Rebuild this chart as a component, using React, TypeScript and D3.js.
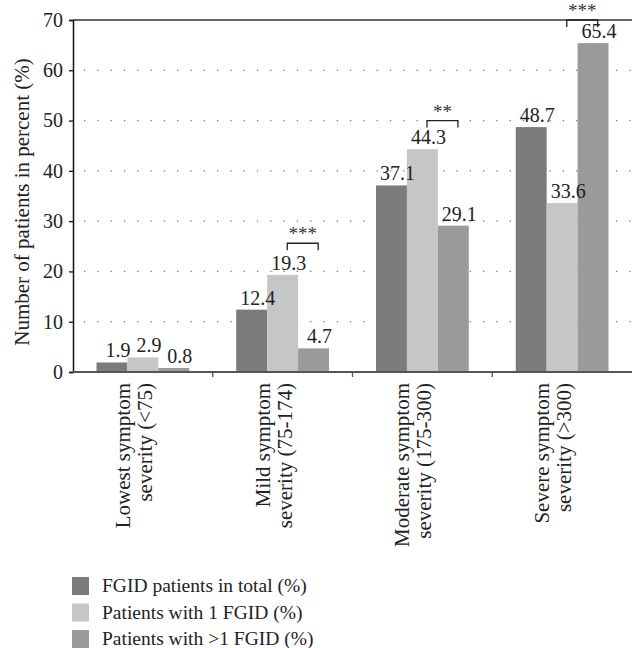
import React, { useEffect, useRef } from 'react';
import * as d3 from 'd3';

const categories = [
  ['Lowest symptom', 'severity (<75)'],
  ['Mild symptom', 'severity (75-174)'],
  ['Moderate symptom', 'severity (175-300)'],
  ['Severe symptom', 'severity (>300)'],
];
const seriesNames = ['FGID patients in total (%)', 'Patients with 1 FGID (%)', 'Patients with >1 FGID (%)'];
const totalValues = [1.9, 12.4, 37.1, 48.7];
const oneFgidValues = [2.9, 19.3, 44.3, 33.6];
const multiFgidValues = [0.8, 4.7, 29.1, 65.4];
const yTicks = [0, 10, 20, 30, 40, 50, 60, 70];
// significance marks: category index, stars, bracket height (in %)
const sigCategory = [1, 2, 3];
const sigStars = ['***', '**', '***'];
const sigLevel = [25.6, 50, 70];

const colors = ['#7b7b7b', '#c6c6c6', '#9a9a9a'];

export default function App() {
  const ref = useRef<SVGSVGElement>(null);

  useEffect(() => {
    const width = 632;
    const height = 648;
    const margin = { left: 73, right: 0, top: 20, bottom: 276 };
    const font = '"Liberation Serif", "DejaVu Serif", serif';
    const series = [totalValues, oneFgidValues, multiFgidValues];

    const svg = d3.select(ref.current);
    svg.selectAll('*').remove();
    svg.attr('width', width).attr('height', height);

    const y = d3.scaleLinear().domain([0, 70]).range([height - margin.bottom, margin.top]);
    const x0 = d3.scaleBand<number>()
      .domain(d3.range(categories.length))
      .range([margin.left, width - margin.right])
      .paddingInner(0)
      .paddingOuter(0);
    const x1 = d3.scaleBand<number>()
      .domain(d3.range(series.length))
      .range([0, x0.bandwidth()])
      .paddingOuter(0.76)
      .paddingInner(0);

    // gridlines
    svg.append('g')
      .selectAll('line')
      .data(yTicks.filter(t => t > 0 && t < 70))
      .enter()
      .append('line')
      .attr('x1', margin.left + 11)
      .attr('x2', width)
      .attr('y1', d => y(d))
      .attr('y2', d => y(d))
      .attr('stroke', '#777')
      .attr('stroke-width', 1.3)
      .attr('stroke-dasharray', '1.3,12');

    // bars
    series.forEach((vals, s) => {
      svg.append('g')
        .selectAll('rect')
        .data(vals)
        .enter()
        .append('rect')
        .attr('x', (d, i) => x0(i)! + x1(s)!)
        .attr('y', d => y(d))
        .attr('width', x1.bandwidth())
        .attr('height', d => y(0) - y(d))
        .attr('fill', colors[s]);
    });

    // value labels (on top of all bars)
    series.forEach((vals, s) => {
      svg.append('g')
        .selectAll('text')
        .data(vals)
        .enter()
        .append('text')
        .attr('x', (d, i) => x0(i)! + x1(s)! + x1.bandwidth() / 2 + 6)
        .attr('y', d => y(d) - 5)
        .attr('text-anchor', 'middle')
        .style('font-family', font)
        .style('font-size', '20px')
        .attr('fill', '#222')
        .text(d => d.toFixed(1));
    });

    // top frame line
    svg.append('line')
      .attr('x1', margin.left).attr('x2', width)
      .attr('y1', y(70)).attr('y2', y(70))
      .attr('stroke', '#666').attr('stroke-width', 2);

    // y axis
    const yAxis = svg.append('g')
      .attr('transform', `translate(${margin.left},0)`)
      .call(d3.axisLeft(y).tickValues(yTicks).tickSize(4).tickPadding(6).tickFormat(d3.format('d')));
    yAxis.select('.domain').attr('stroke', '#111').attr('stroke-width', 1.5);
    yAxis.selectAll('.tick line').attr('stroke', '#111').attr('stroke-width', 1.3);
    yAxis.selectAll('.tick text')
      .style('font-family', font)
      .style('font-size', '20px')
      .attr('fill', '#222');

    // x axis
    svg.append('line')
      .attr('x1', margin.left).attr('x2', width)
      .attr('y1', y(0)).attr('y2', y(0))
      .attr('stroke', '#555').attr('stroke-width', 2);
    svg.append('g')
      .selectAll('line')
      .data(d3.range(1, categories.length))
      .enter()
      .append('line')
      .attr('x1', d => x0(d)!).attr('x2', d => x0(d)!)
      .attr('y1', y(0)).attr('y2', y(0) + 5)
      .attr('stroke', '#555').attr('stroke-width', 1.3);

    // category labels
    categories.forEach((lines, i) => {
      const cx = x0(i)! + x0.bandwidth() / 2;
      lines.forEach((ln, j) => {
        const bx = cx - 13 + j * 22;
        svg.append('text')
          .attr('transform', `translate(${bx},${y(0) + 11}) rotate(-90)`)
          .attr('text-anchor', 'end')
          .style('font-family', font)
          .style('font-size', '21px')
          .attr('fill', '#222')
          .text(ln);
      });
    });

    // y axis title
    svg.append('text')
      .attr('transform', `translate(29,${(y(0) + y(70)) / 2 + 6}) rotate(-90)`)
      .attr('text-anchor', 'middle')
      .style('font-family', font)
      .style('font-size', '21px')
      .attr('fill', '#222')
      .text('Number of patients in percent (%)');

    // significance brackets between "1 FGID" and ">1 FGID" bars
    sigCategory.forEach((c, k) => {
      const xa = x0(c)! + x1(1)! + x1.bandwidth() * 0.65;
      const xb = x0(c)! + x1(2)! + x1.bandwidth() * 0.65;
      const yy = y(sigLevel[k]);
      svg.append('path')
        .attr('d', `M${xa},${yy + 7}V${yy}H${xb}V${yy + 7}`)
        .attr('fill', 'none')
        .attr('stroke', '#222')
        .attr('stroke-width', 1.3);
      svg.append('text')
        .attr('x', (xa + xb) / 2)
        .attr('y', yy - 3)
        .attr('text-anchor', 'middle')
        .style('font-family', font)
        .style('font-size', '19px')
        .attr('fill', '#333')
        .text(sigStars[k]);
    });

    // legend
    const legend = svg.append('g').attr('transform', 'translate(72,577)');
    seriesNames.forEach((name, i) => {
      const row = legend.append('g').attr('transform', `translate(0,${i * 26.5})`);
      row.append('rect').attr('width', 17).attr('height', 18).attr('fill', colors[i]);
      row.append('text')
        .attr('x', 30)
        .attr('y', 15)
        .style('font-family', font)
        .style('font-size', '19.5px')
        .attr('fill', '#222')
        .text(name);
    });
  }, []);

  return (
    <div style={{ position: 'absolute', left: 0, top: 0 }}>
      <svg ref={ref} style={{ display: 'block' }} />
    </div>
  );
}
